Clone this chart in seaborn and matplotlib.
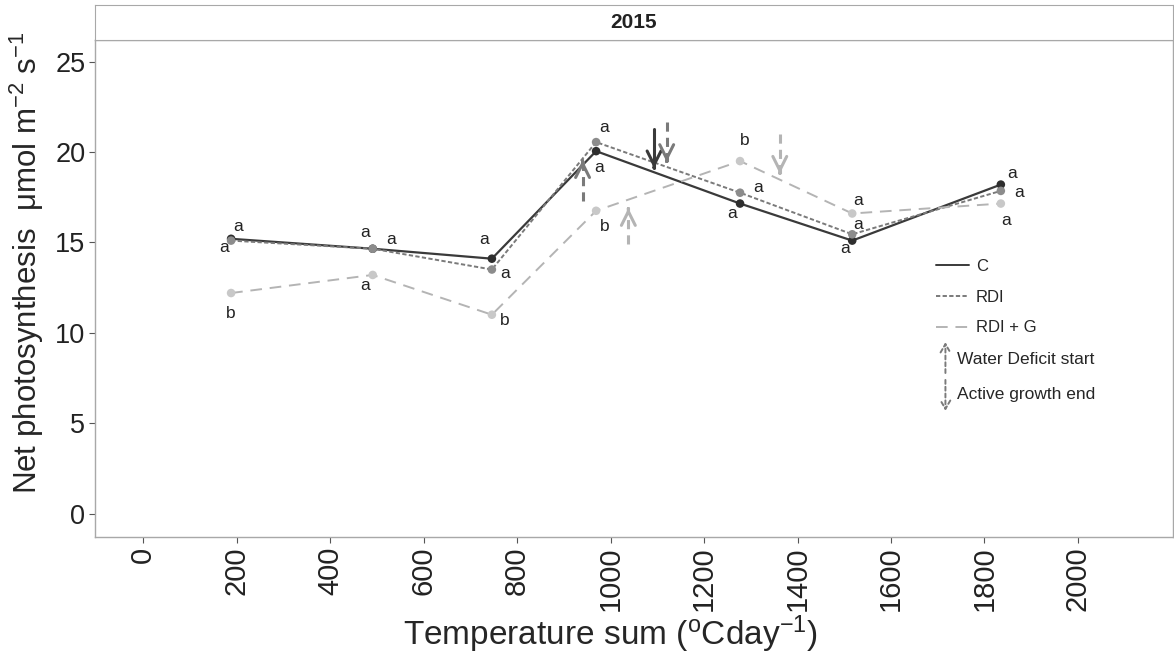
import numpy as np
import pandas as pd
import seaborn as sns
import matplotlib.pyplot as plt
from matplotlib.lines import Line2D

# data
temp_sum = [188, 491, 746, 969, 1277, 1517, 1835]
c_vals = [15.2, 14.65, 14.1, 20.05, 17.15, 15.1, 18.2]
rdi_vals = [15.1, 14.65, 13.5, 20.55, 17.75, 15.45, 17.85]
rdig_vals = [12.2, 13.2, 11.0, 16.75, 19.5, 16.6, 17.15]

c_letters = ["a", "a", "a", "a", "a", "a", "a"]
rdi_letters = ["a", "a", "a", "a", "a", "a", "a"]
rdig_letters = ["b", "a", "b", "b", "b", "a", "a"]

# arrows: water deficit start (up) and active growth end (down)
deficit_trt = ["RDI", "RDI + G"]
deficit_x = [940, 1038]
deficit_from = [17.3, 14.9]
deficit_to = [19.55, 16.9]

growth_trt = ["C", "RDI", "RDI + G"]
growth_x = [1093, 1120, 1362]
growth_from = [21.3, 21.65, 21.0]
growth_to = [19.1, 19.45, 18.8]

treatments = ["C", "RDI", "RDI + G"]

df = pd.DataFrame({
    "temp": temp_sum * 3,
    "pn": c_vals + rdi_vals + rdig_vals,
    "trt": np.repeat(treatments, len(temp_sum)),
    "letter": c_letters + rdi_letters + rdig_letters,
})

line_col = {"C": "#3a3a3a", "RDI": "#7a7a7a", "RDI + G": "#b4b4b4"}
pt_col = {"C": "#2e2e2e", "RDI": "#8c8c8c", "RDI + G": "#c8c8c8"}
dashes = {"C": "", "RDI": (2.2, 1.2), "RDI + G": (6, 4)}
arrow_ls = {"C": "-", "RDI": (0, (3, 2)), "RDI + G": (0, (3, 2))}

# letter offsets (pixels) per treatment and point
offsets = {
    "C": [(7, 12), (-8, 16), (-8, 19), (3, -16), (-8, -10), (-7, -8), (11, 11)],
    "RDI": [(-7, -7), (18, 9), (13, -4), (8, 15), (18, 5), (6, 10), (18, -2)],
    "RDI + G": [(0, -20), (-8, -11), (13, -6), (9, -16), (5, 21), (6, 13), (5, -17)],
}

sns.set_style("white")
plt.rcParams["font.family"] = ["Liberation Sans", "DejaVu Sans"]

fig = plt.figure(figsize=(11.74, 6.63), dpi=100)
ax = fig.add_axes([0.081, 0.19, 0.918, 0.7497])

for trt in treatments:
    sub = df[df["trt"] == trt]
    sns.lineplot(data=sub, x="temp", y="pn", ax=ax, color=line_col[trt],
                 lw=1.6 if trt == "C" else 1.4, legend=False)
    if dashes[trt]:
        ax.lines[-1].set_dashes(dashes[trt])
    sns.scatterplot(data=sub, x="temp", y="pn", ax=ax, color=pt_col[trt],
                    s=38, edgecolor="none", legend=False, zorder=3)
    for (x, y, lab), (dx, dy) in zip(sub[["temp", "pn", "letter"]].values, offsets[trt]):
        ax.annotate(lab, (x, y), xytext=(dx, dy), textcoords="offset pixels",
                    ha="center", va="center", fontsize=12.5, color="#222222")


def draw_arrow(x, y0, y1, color, ls):
    ax.plot([x, x], [y0, y1], color=color, lw=2.2, linestyle=ls, zorder=4)
    d = 0.05 if y1 > y0 else -0.05
    ax.annotate("", xy=(x, y1), xytext=(x, y1 - d),
                arrowprops=dict(arrowstyle="->,head_length=1.0,head_width=0.5",
                                color=color, lw=2.2, shrinkA=0, shrinkB=0), zorder=4)


for trt, x, y0, y1 in zip(deficit_trt, deficit_x, deficit_from, deficit_to):
    draw_arrow(x, y0, y1, line_col[trt], arrow_ls[trt])
for trt, x, y0, y1 in zip(growth_trt, growth_x, growth_from, growth_to):
    draw_arrow(x, y0, y1, line_col[trt], arrow_ls[trt])

ax.set_xlim(-103, 2203)
ax.set_ylim(-1.3, 26.2)
ax.set_xticks(range(0, 2001, 200))
ax.set_yticks(range(0, 26, 5))
ax.tick_params(axis="x", labelsize=21, rotation=90, length=4, color="#555555", pad=3)
ax.tick_params(axis="y", labelsize=19.5, length=4, color="#555555", pad=3)
ax.tick_params(bottom=True, left=True, labelcolor="#222222")
for s in ax.spines.values():
    s.set_color("#a8a8a8")
    s.set_linewidth(1.0)
ax.set_xlabel("Temperature sum ($\\mathregular{^{o}}$Cday$\\mathregular{^{-1}}$)", fontsize=24)
ax.set_ylabel("Net photosynthesis  μmol m$\\mathregular{^{-2}}$ s$\\mathregular{^{-1}}$", fontsize=22.5)
ax.xaxis.set_label_coords(0.478, -0.153)
ax.yaxis.set_label_coords(-0.046, 0.553)

# legend
handles = []
for t in treatments:
    h = Line2D([0], [0], color=line_col[t], lw=1.4)
    if dashes[t]:
        h.set_dashes(dashes[t])
    handles.append(h)
ax.legend(handles, treatments, loc="upper left", bbox_to_anchor=(0.766, 0.59),
          frameon=False, fontsize=12, handlelength=2.0, labelspacing=0.95,
          handletextpad=0.4)

key_col = "#7a7a7a"
ax.annotate("", xy=(0.789, 0.392), xytext=(0.789, 0.33), xycoords="axes fraction",
            arrowprops=dict(arrowstyle="->,head_length=0.6,head_width=0.35", color=key_col,
                            lw=1.4, linestyle=(0, (2, 1.5)), shrinkA=0, shrinkB=0))
ax.text(0.8, 0.357, "Water Deficit start", transform=ax.transAxes, fontsize=12.5, va="center")
ax.annotate("", xy=(0.789, 0.254), xytext=(0.789, 0.316), xycoords="axes fraction",
            arrowprops=dict(arrowstyle="->,head_length=0.6,head_width=0.35", color=key_col,
                            lw=1.4, linestyle=(0, (2, 1.5)), shrinkA=0, shrinkB=0))
ax.text(0.8, 0.287, "Active growth end", transform=ax.transAxes, fontsize=12.5, va="center")

# facet strip
strip = fig.add_axes([0.081, 0.9397, 0.918, 0.0528])
strip.set_xticks([])
strip.set_yticks([])
strip.set_facecolor("white")
for s in strip.spines.values():
    s.set_color("#a8a8a8")
strip.text(0.5, 0.5, "2015", ha="center", va="center", fontsize=15,
           fontweight="bold", color="#222222")

fig.savefig("out.png", dpi=100)
